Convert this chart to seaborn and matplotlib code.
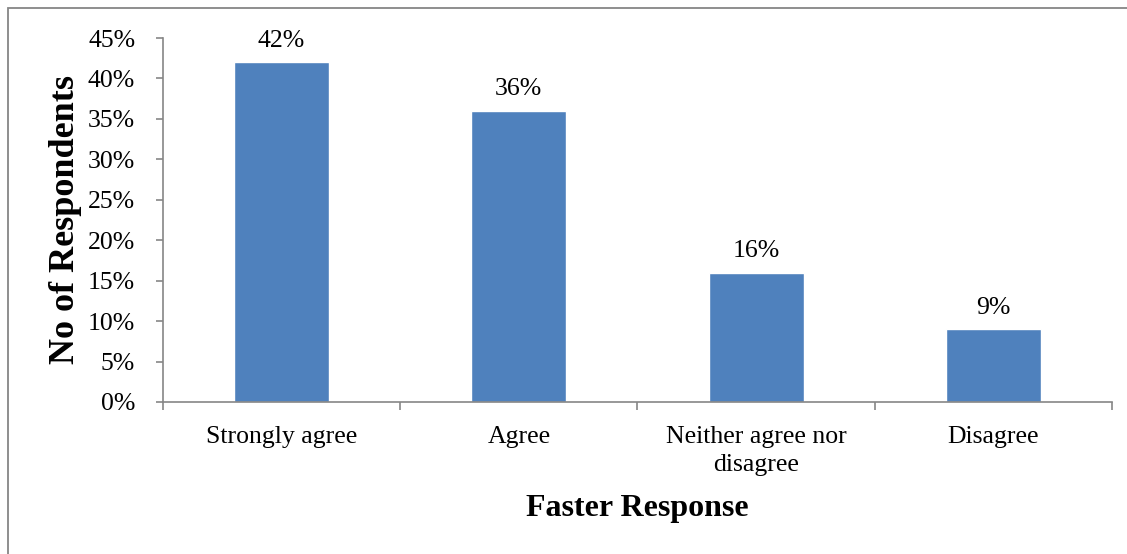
import matplotlib
matplotlib.use("Agg")
import matplotlib.pyplot as plt
from matplotlib.patches import Rectangle
from matplotlib.ticker import FuncFormatter
import seaborn as sns
import pandas as pd

categories = ["Strongly agree", "Agree", "Neither agree nor\ndisagree", "Disagree"]
percentages = [42, 36, 16, 9]
y_ticks = [0, 5, 10, 15, 20, 25, 30, 35, 40, 45]

sns.set_theme(style="white")
plt.rcParams["font.family"] = ["Liberation Serif", "DejaVu Serif"]
plt.rcParams["text.color"] = "black"
plt.rcParams["axes.labelcolor"] = "black"
plt.rcParams["xtick.color"] = "black"
plt.rcParams["ytick.color"] = "black"

df = pd.DataFrame({"category": categories, "pct": percentages})

fig = plt.figure(figsize=(11.27, 5.54), dpi=100)
ax = fig.add_axes([0.1446, 0.2744, 0.8421, 0.657])

sns.barplot(data=df, x="category", y="pct", color="#4F81BD", width=0.4,
            saturation=1, ax=ax)

for i, v in enumerate(percentages):
    ax.text(i, v + 1.3, f"{v}%", ha="center", va="bottom", fontsize=18.5)

ax.set_ylim(0, 45)
ax.set_xlim(-0.5, len(categories) - 0.5)
ax.set_yticks(y_ticks)
ax.yaxis.set_major_formatter(FuncFormatter(lambda v, _: f"{v:.0f}%"))
ax.set_xticks([i - 0.5 for i in range(len(categories) + 1)], minor=True)
ax.tick_params(axis="x", which="major", length=0, pad=17, labelsize=18.5,
               labelcolor="black")
for lbl in ax.get_xticklabels():
    lbl.set_linespacing(1.35)
ax.tick_params(axis="x", which="minor", length=6, width=1.2, color="#868686",
               direction="out", bottom=True)
ax.tick_params(axis="y", length=5, width=1.2, color="#868686", direction="out",
               left=True, labelsize=18.5, pad=15, labelcolor="black")

for side in ["top", "right"]:
    ax.spines[side].set_visible(False)
for side in ["left", "bottom"]:
    ax.spines[side].set_color("#868686")
    ax.spines[side].set_linewidth(1.2)

ax.set_xlabel("Faster Response", fontsize=23, fontweight="bold", labelpad=13)
ax.set_ylabel("No of Respondents", fontsize=26, fontweight="bold", labelpad=4)

fig.patches.append(Rectangle((8 / 1127, -0.05), 1.2, 1 - 8 / 554 + 0.05,
                             transform=fig.transFigure, fill=False,
                             edgecolor="#868686", linewidth=1.3))

fig.savefig("out.png", dpi=100)
